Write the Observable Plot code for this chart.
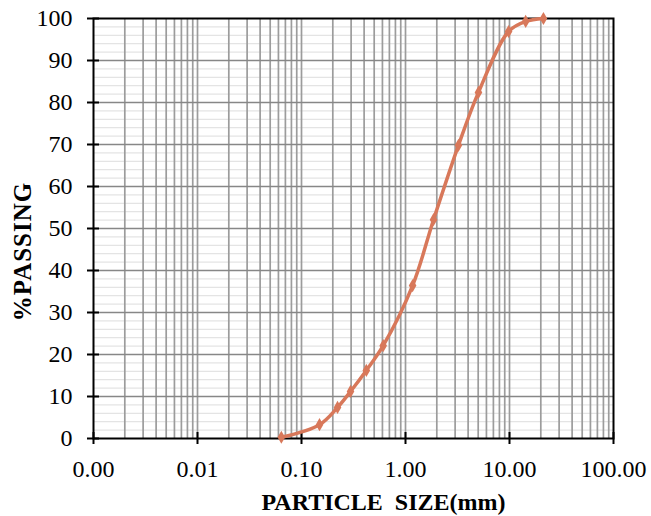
<!DOCTYPE html>
<html>
<head>
<meta charset="utf-8">
<script src="https://cdn.jsdelivr.net/npm/d3@7"></script>
<script src="https://cdn.jsdelivr.net/npm/@observablehq/plot@0.6"></script>
<style>
  html, body { margin: 0; padding: 0; background: white; }
</style>
</head>
<body>
<div id="chart"></div>
<script>
// Particle size (mm) and % passing
const sizeMM = [0.064, 0.149, 0.222, 0.296, 0.42, 0.61, 1.17, 1.86, 3.23, 5.03, 9.8, 14.3, 21.2];
const passing = [0.3, 3.3, 7.4, 11.2, 16.2, 22.1, 36.4, 52.1, 69.8, 82.4, 96.9, 99.3, 100];

const xTicks = [0.001, 0.01, 0.1, 1, 10, 100];
const yTicks = [0, 10, 20, 30, 40, 50, 60, 70, 80, 90, 100];
const yMinor = [2, 4, 6, 8, 12, 14, 16, 18, 22, 24, 26, 28, 32, 34, 36, 38, 42, 44, 46, 48,
                52, 54, 56, 58, 62, 64, 66, 68, 72, 74, 76, 78, 82, 84, 86, 88, 92, 94, 96, 98];
const xTitle = "PARTICLE  SIZE(mm)";
const yTitle = "%PASSING";

const data = sizeMM.map((s, i) => ({size: s, pass: passing[i]}));

// log grid positions: 2..9 × each decade, plus interior decades
const xGrid = [];
for (let k = -3; k <= 1; k++) {
  for (let m = 1; m <= 9; m++) {
    if (m === 1 && k === -3) continue;
    xGrid.push(+(m * Math.pow(10, k)).toPrecision(3));
  }
}

const chart = Plot.plot({
  width: 651,
  height: 516,
  marginLeft: 93,
  marginRight: 38,
  marginTop: 18,
  marginBottom: 78,
  x: {type: "log", domain: [0.001, 100]},
  y: {domain: [0, 100]},
  style: {fontFamily: "'Liberation Serif', 'Times New Roman', serif", fontSize: "24px", color: "black", background: "white"},
  marks: [
    Plot.ruleY(yMinor, {stroke: "#e4e4e4", strokeWidth: 1.3}),
    Plot.ruleX(xGrid, {stroke: "#9c9c9c", strokeWidth: 1.7}),
    Plot.ruleY(yTicks.slice(1, -1), {stroke: "#878787", strokeWidth: 1.7}),
    Plot.frame({stroke: "black", strokeWidth: 2}),
    Plot.ruleY(yTicks, {x1: 0.001, x2: 0.001, insetLeft: -6, insetRight: -6, stroke: "black", strokeWidth: 2}),
    Plot.ruleX(xTicks, {y1: 0, y2: 0, insetTop: -6, insetBottom: -6, stroke: "black", strokeWidth: 2}),
    Plot.line(data, {x: "size", y: "pass", stroke: "#d8785a", strokeWidth: 3.5, curve: "catmull-rom"}),
    Plot.dot(data, {x: "size", y: "pass", symbol: "diamond", fill: "#d8785a", r: 4}),
    Plot.axisX({ticks: xTicks, tickFormat: d => d.toFixed(2), tickSize: 0, tickPadding: 21, fontSize: 24, label: null}),
    Plot.axisY({ticks: yTicks, tickSize: 0, tickPadding: 21, fontSize: 24, label: null}),
    Plot.text([xTitle], {text: d => d, frameAnchor: "bottom", dx: 30, dy: 64, fontWeight: "bold", fontSize: 24, textAnchor: "middle", lineAnchor: "middle"}),
    Plot.text([yTitle], {text: d => d, frameAnchor: "left", dx: -71, dy: 23, rotate: -90, fontWeight: "bold", fontSize: 25, textAnchor: "middle", lineAnchor: "middle"})
  ]
});

// slight widening of the vertical title lettering as in the reference
chart.querySelectorAll("text").forEach(t => {
  if (t.textContent === yTitle) t.style.letterSpacing = "1px";
});

document.getElementById("chart").append(chart);
</script>
</body>
</html>
